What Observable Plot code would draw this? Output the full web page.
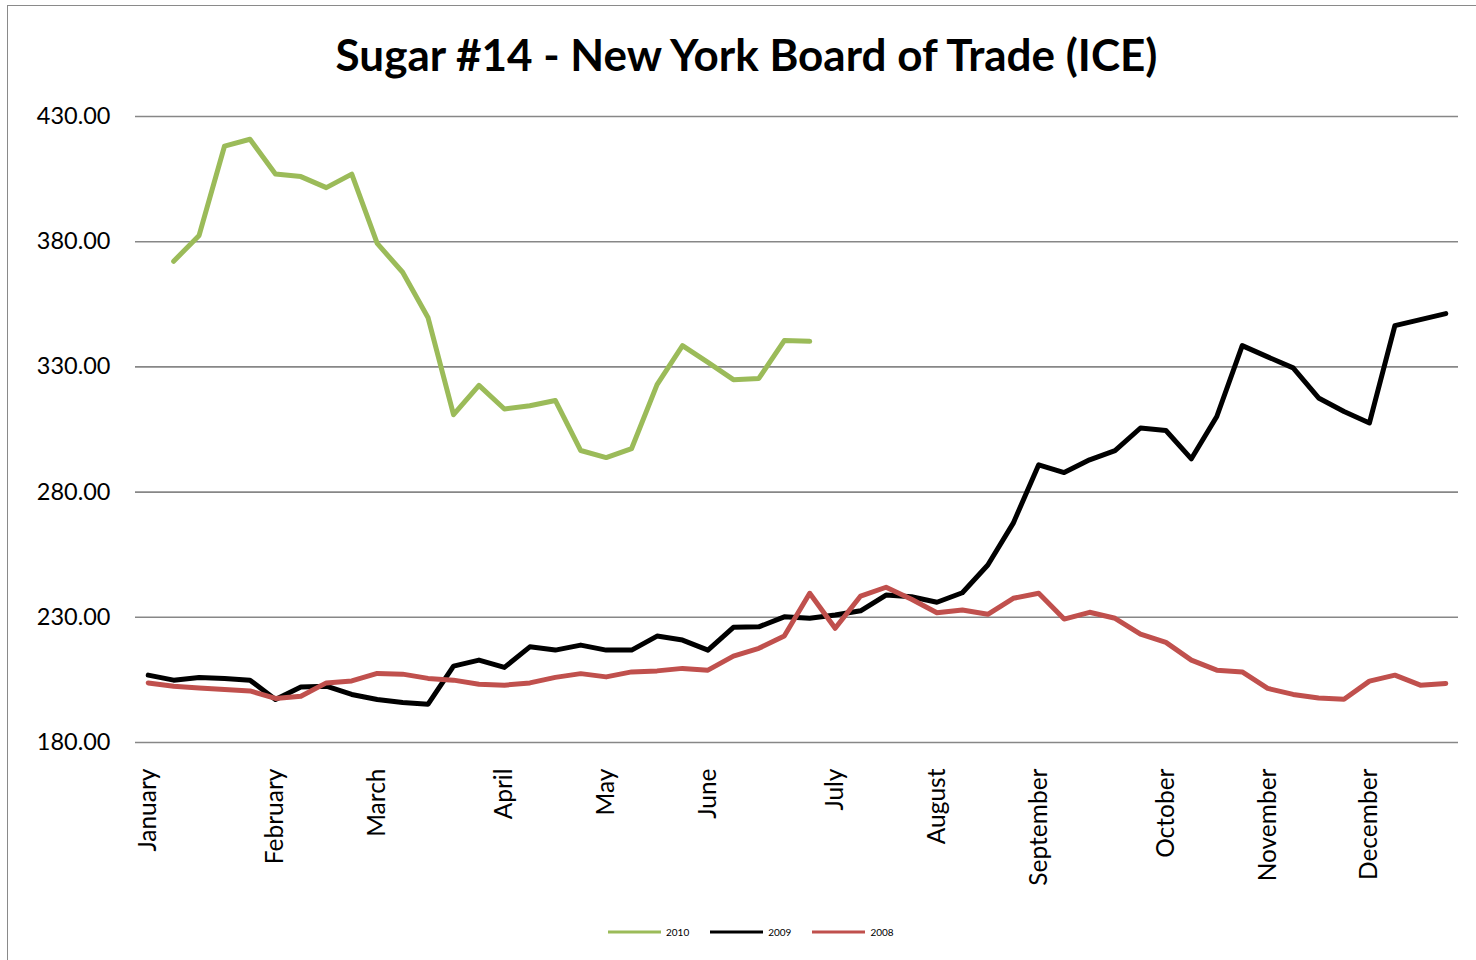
<!DOCTYPE html>
<html>
<head>
<meta charset="utf-8">
<script src="https://cdn.jsdelivr.net/npm/d3@7"></script>
<script src="https://cdn.jsdelivr.net/npm/@observablehq/plot@0.6"></script>
<style>
  html, body { margin: 0; padding: 0; background: #fff; }
  body { width: 1476px; height: 960px; overflow: hidden; position: relative; }
  #frame { position: absolute; left: 7px; top: 5px; width: 1520px; height: 1020px; border: 1.5px solid #8a8a8a; box-sizing: border-box; }
  #title { position: absolute; left: 0; width: 1493px; top: 31px; text-align: center;
           font-family: Lato, "Open Sans", sans-serif; font-weight: bold; font-size: 44px; line-height: 47px; color: #000; }
  #chart { position: absolute; left: 0; top: 0; }
  #legend { position: absolute; left: 608px; top: 926px; display: flex; align-items: center;
            font-family: Lato, "Open Sans", sans-serif; font-size: 10px; color: #000; }
  .item { display: flex; align-items: center; margin-right: 21px; }
  .item svg { margin-right: 5px; }
</style>
</head>
<body>
<div id="frame"></div>
<div id="chart"></div>
<div id="title">Sugar #14 - New York Board of Trade (ICE)</div>
<div id="legend"></div>
<script>
// ---- data ----
const monthNames = ["January", "February", "March", "April", "May", "June", "July",
                    "August", "September", "October", "November", "December"];
const monthWeek = [0, 5, 9, 14, 18, 22, 27, 31, 35, 40, 44, 48];
const yTicks = [180, 230, 280, 330, 380, 430];

const seriesNames = ["2010", "2009", "2008"];
const seriesColors = ["#9BBB59", "#000000", "#C0504D"];

const sugar2010 = [null, 372.2, 382.5, 418.2, 420.9, 407.0, 406.0, 401.6, 407.0, 379.3,
  367.8, 349.6, 310.9, 322.6, 313.2, 314.5, 316.6, 296.6, 293.8, 297.4,
  322.9, 338.5, 331.8, 324.9, 325.4, 340.5, 340.2];

const sugar2009 = [206.9, 204.9, 206.0, 205.6, 204.9, 197.2, 202.2, 202.5, 199.2, 197.2,
  196.0, 195.3, 210.5, 212.9, 210.0, 218.2, 216.9, 218.9, 216.9, 216.9,
  222.5, 220.9, 216.9, 226.0, 226.2, 230.2, 229.6, 230.9, 232.6, 238.9,
  238.2, 236.0, 239.8, 250.9, 267.6, 290.9, 287.8, 292.9, 296.6, 305.6,
  304.6, 293.3, 310.2, 338.5, 334.0, 329.6, 317.6, 312.2, 307.6, 346.5,
  348.9, 351.3];

const sugar2008 = [203.8, 202.5, 201.8, 201.2, 200.6, 197.6, 198.5, 203.8, 204.6, 207.6,
  207.3, 205.6, 204.9, 203.3, 202.9, 203.8, 206.0, 207.5, 206.2, 208.2,
  208.6, 209.6, 208.9, 214.5, 217.6, 222.5, 239.6, 225.6, 238.5, 242.0,
  237.2, 231.8, 232.9, 231.2, 237.6, 239.6, 229.3, 232.0, 229.6, 223.3,
  220.0, 212.9, 208.9, 208.2, 201.6, 199.2, 197.8, 197.3, 204.5, 206.9,
  202.9, 203.6];

// ---- build rows ----
const allSeries = [sugar2010, sugar2009, sugar2008];
const rows = (arr) => arr.map((v, i) => ({week: i, value: v})).filter(d => d.value != null);

const lineMarks = allSeries.map((arr, k) =>
  Plot.line(rows(arr), {
    x: "week", y: "value",
    stroke: seriesColors[k], strokeWidth: 5,
    strokeLinejoin: "round", strokeLinecap: "round"
  })
);

const chart = Plot.plot({
  width: 1476,
  height: 960,
  marginLeft: 135,
  marginRight: 18,
  marginTop: 116,
  marginBottom: 218,
  style: { background: "transparent", overflow: "visible" },
  x: { type: "linear", domain: [-0.5, 51.5], axis: null },
  y: { domain: [180, 430], axis: null },
  marks: [
    Plot.ruleY(yTicks, { stroke: "#878787", strokeWidth: 1.6 }),
    Plot.axisY({
      ticks: yTicks, tickSize: 0, tickPadding: 25,
      tickFormat: d3.format(".2f"), label: null,
      fontSize: 23.5, fontFamily: "Lato, 'Open Sans', sans-serif", fill: "#000"
    }),
    Plot.axisX({
      ticks: monthWeek, tickSize: 0, tickPadding: 26, tickRotate: -90,
      tickFormat: (w) => monthNames[monthWeek.indexOf(w)], label: null,
      fontSize: 24.5, fontFamily: "Lato, 'Open Sans', sans-serif", fill: "#000"
    }),
    ...lineMarks
  ]
});
document.getElementById("chart").appendChild(chart);

// ---- legend ----
const legend = document.getElementById("legend");
seriesNames.forEach((name, k) => {
  const item = document.createElement("div");
  item.className = "item";
  item.innerHTML = `<svg width="53" height="6"><line x1="0" y1="3" x2="53" y2="3" stroke="${seriesColors[k]}" stroke-width="3"/></svg><span>${name}</span>`;
  legend.appendChild(item);
});
</script>
</body>
</html>
